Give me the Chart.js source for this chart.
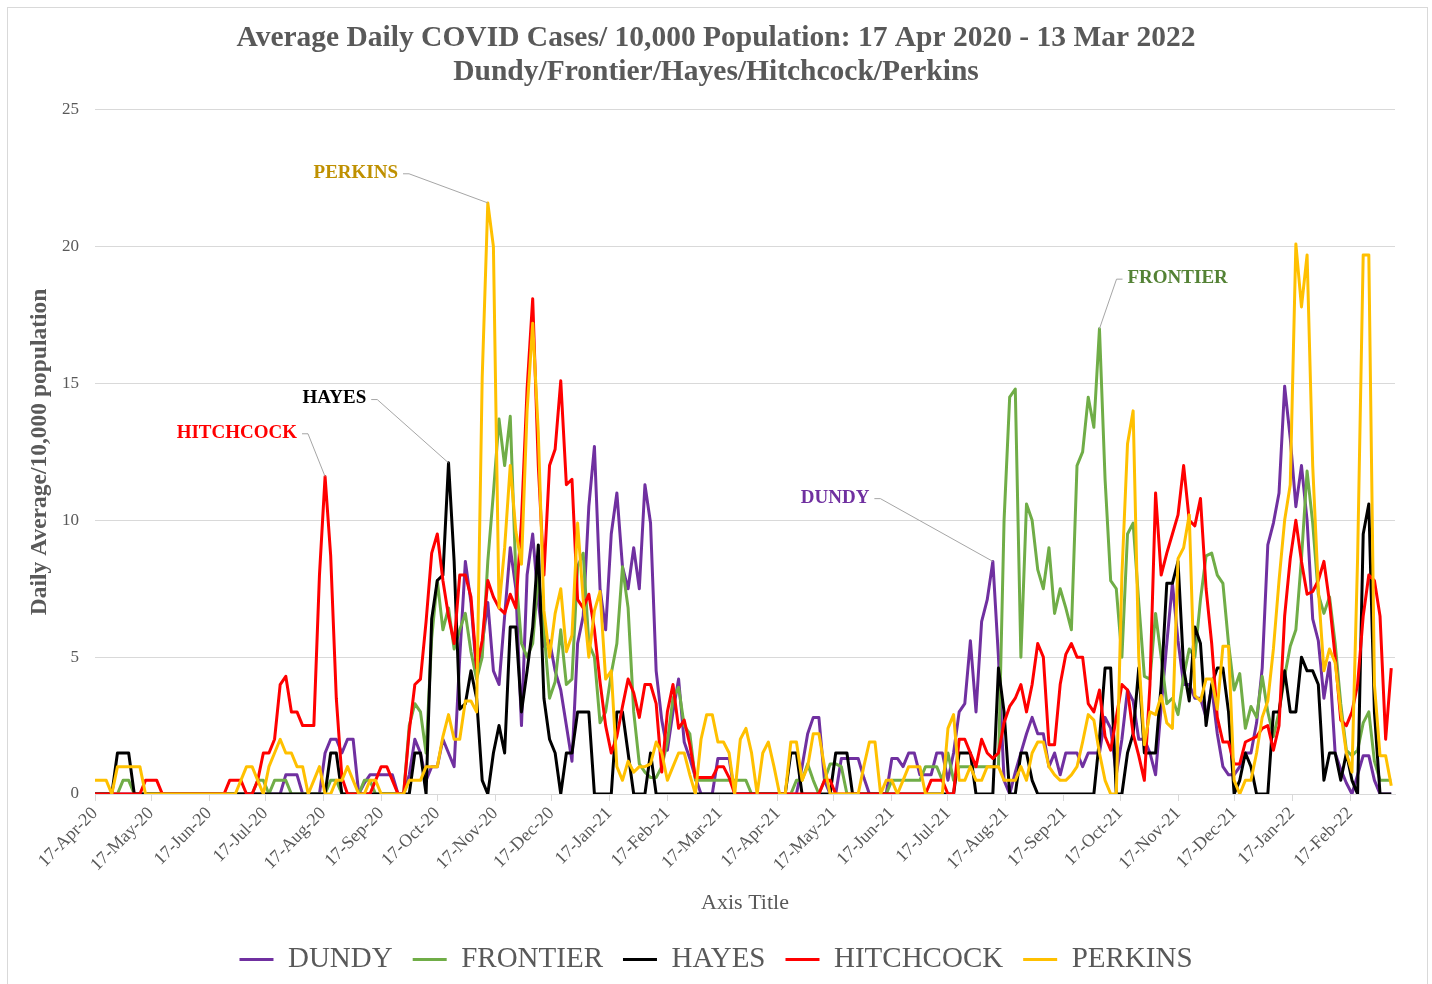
<!DOCTYPE html>
<html>
<head>
<meta charset="utf-8">
<script src="https://cdn.jsdelivr.net/npm/chart.js@4.4.0/dist/chart.umd.min.js"></script>
<style>
  html, body { margin: 0; padding: 0; background: #fff; }
</style>
</head>
<body>
<canvas id="covidChart" width="1432" height="984"></canvas>
<script>
// one value every 3 days, starting 17 Apr 2020 (day 0)
const dayStep = 3;

const tickDays = [0, 30, 61, 91, 122, 153, 183, 214, 244, 275, 306, 334, 365, 395, 426, 456, 487, 518, 548, 579, 609, 640, 671];
const tickLabels = ["17-Apr-20", "17-May-20", "17-Jun-20", "17-Jul-20", "17-Aug-20", "17-Sep-20", "17-Oct-20",
  "17-Nov-20", "17-Dec-20", "17-Jan-21", "17-Feb-21", "17-Mar-21", "17-Apr-21", "17-May-21", "17-Jun-21",
  "17-Jul-21", "17-Aug-21", "17-Sep-21", "17-Oct-21", "17-Nov-21", "17-Dec-21", "17-Jan-22", "17-Feb-22"];

const seriesNames = ["DUNDY", "FRONTIER", "HAYES", "HITCHCOCK", "PERKINS"];

const dundy = [
  0,0,0,0,0,0,0,0,0,0,
  0,0,0,0,0,0,0,0,0,0,
  0,0,0,0,0,0,0,0,0,0,
  0,0,0,0,0.7,0.7,0.7,0,0,0,
  0,1.5,2,2,1.5,2,2,0,0.4,0.7,
  0.7,0.7,0.7,0.7,0,0,0.7,2,1.5,0.5,
  1,1,2,1.5,1,5,8.5,7,4.4,5.5,
  7,4.5,4,6.5,9,7.5,2.5,8,9.5,7,
  5.4,5.6,4.5,3.8,2.5,1.2,5.5,6.5,10.5,12.7,
  7.5,6,9.5,11,8.3,7.5,9,7.5,11.3,9.9,
  4.5,2.7,1.6,3,4.2,1.9,1.3,0.6,0,0,
  0,1.3,1.3,1.3,0,0,0,0,0,0,
  0,0,0,0,0,0,1,2.2,2.8,2.8,
  0.5,0,0,1.3,1.3,1.3,1.3,0.6,0,0,
  0,0,1.3,1.3,1,1.5,1.5,0.7,0.7,0.7,
  1.5,1.5,0.5,1.5,3,3.3,5.6,3,6.3,7.1,
  8.5,5,0.5,0,0.8,1.5,2.2,2.8,2.2,2.2,
  1,1.5,0.7,1.5,1.5,1.5,1,1.5,1.5,1.5,
  2.8,2.4,0.7,2,3.8,3.4,2,2,1.5,0.7,
  3.2,5.5,7.7,5.6,4,4,3.5,3.5,2.8,3.9,
  2.2,1,0.7,0.7,1,1.5,1.5,2.6,4.6,9.1,
  9.9,11,14.9,13,10.5,12,10,6.4,5.6,3.5,
  4.8,1.5,0.9,0.4,0,0.7,1.4,1.4,0.5,0,
  0,0
];

const frontier = [
  0,0,0,0,0,0.5,0.5,0,0,0,
  0,0,0,0,0,0,0,0,0,0,
  0,0,0,0,0,0,0,0,0,0.5,
  0.5,0,0.5,0.5,0.5,0,0,0,0,0,
  0,0,0.5,0.5,0,0,0,0,0.5,0.5,
  0,0,0,0,0,0,2.5,3.3,3,1.5,
  5.7,7.8,6,6.8,5.3,6,6.6,5.2,4.2,5,
  8.5,11,13.7,12,13.8,8,5.5,5,5.5,8,
  6,3.5,4.1,6,4,4.2,8.3,8.8,5.5,5,
  2.6,3,4.4,5.5,8.3,6.8,3,1.1,0.8,0.6,
  0.6,1,1.9,3.5,3.9,2.5,2.2,0.5,0.5,0.5,
  0.5,0.5,0.5,0.5,0.5,0.5,0.5,0,0,0,
  0,0,0,0,0,0.5,0.5,1.1,0.5,0,
  0.5,1.1,1.1,1,0,0,0,0,0,0,
  0,0,0.5,0.5,0.5,0.5,0.5,0.5,1,1,
  1,0.5,1.5,0.5,1,1,1,1,1,1,
  1,1,10,14.5,14.8,5,10.6,10,8.2,7.5,
  9,6.6,7.5,6.8,6,12,12.5,14.5,13.4,17,
  11.5,7.8,7.5,5,9.5,9.9,7,4.3,4.2,6.6,
  5,3.3,3.5,2.9,4.3,5.3,5,7.1,8.7,8.8,
  8,7.7,5.5,3.8,4.4,2.4,3.2,2.8,4.3,3,
  2.1,3,4.3,5.4,6,8.6,11.8,9.9,7.3,6.6,
  7.2,5.5,3.3,1.6,1.4,1.6,2.6,3,1.2,0.5,
  0.5,0.5
];

const hayes = [
  0,0,0,0,1.5,1.5,1.5,0,0,0,
  0,0,0,0,0,0,0,0,0,0,
  0,0,0,0,0,0,0,0,0,0,
  0,0,0,0,0,0,0,0,0,0,
  0,0,1.5,1.5,0,0,0,0,0,0,
  0,0,0,0,0,0,0,1.5,1.5,0,
  6.4,7.8,8,12.1,8.5,3.1,3.3,4.5,3.5,0.5,
  0,1.5,2.5,1.5,6.1,6.1,3,4.5,6.1,9.1,
  3.5,2,1.5,0,1.5,1.5,3,3,3,0,
  0,0,0,3,3,1.5,0,0,0,1.5,
  0,0,0,0,0,0,0,0,0,0,
  0,0,0,0,0,0,0,0,0,0,
  0,0,0,0,1.5,1.5,0,0,0,0,
  0,0,1.5,1.5,1.5,0,0,0,0,0,
  0,0,0,0,0,0,0,0,0,0,
  0,0,0,0,1.5,1.5,1.5,0,0,0,
  0,4.6,3,0,0,1.5,1.5,0.5,0,0,
  0,0,0,0,0,0,0,0,0,2,
  4.6,4.6,0,0,1.5,2.2,4.6,1.5,1.5,1.5,
  4,7.7,7.7,8.5,4.6,3.4,6.1,5.5,2.5,4,
  4.6,4.6,3,0,0.5,1.5,1,0,0,0,
  3,3,4.5,3,3,5,4.5,4.5,4,0.5,
  1.5,1.5,0.5,1.5,0.5,0,9.5,10.6,3,0,
  0,0
];

const hitchcock = [
  0,0,0,0,0,0,0,0,0,0.5,
  0.5,0.5,0,0,0,0,0,0,0,0,
  0,0,0,0,0.5,0.5,0.5,0,0,0.5,
  1.5,1.5,2,4,4.3,3,3,2.5,2.5,2.5,
  8,11.6,8.7,3.5,0.6,0,0,0,0,0,
  0.5,1,1,0.5,0,0,2.3,4,4.2,6.3,
  8.8,9.5,7.8,6.5,5.5,8,8,7.2,4.6,5.6,
  7.8,7.2,6.8,6.6,7.3,6.8,10,14.8,18.1,12,
  8,12,12.6,15.1,11.3,11.5,7.1,6.8,7.3,6,
  4.1,2.5,1.5,2.1,3.2,4.2,3.7,2.8,4,4,
  3.3,0.8,3,4,2.4,2.7,1.8,0.6,0.6,0.6,
  0.6,1,1,0.6,0,0,0,0,0,0,
  0,0,0,0,0,0,0,0,0,0,
  0.5,0.5,0,0,0,0,0,0,0,0,
  0,0,0,0,0,0,0,0,0,0.5,
  0.5,0.5,0,0,2,2,1.5,1,2,1.5,
  1.3,1.5,2.6,3.2,3.5,4,3,4,5.5,5,
  1.8,1.8,4,5.1,5.5,5,5,3.3,3,3.8,
  2.1,1.6,2.8,4,3.8,2.2,1.4,0.5,4,11,
  8,8.8,9.5,10.2,12,10,9.8,10.8,7.5,5.5,
  2.8,1.9,1.9,1.1,1.1,1.9,2,2.1,2.4,2.5,
  1.6,2.5,6.5,8.6,10,8.5,7.3,7.4,7.8,8.5,
  7,5,2.7,2.5,3,4,6.5,8,7.8,6.5,
  2,4.6
];

const perkins = [
  0.5,0.5,0.5,0,1,1,1,1,1,0,
  0,0,0,0,0,0,0,0,0,0,
  0,0,0,0,0,0,0.5,1,1,0.5,
  0,1,1.5,2,1.5,1.5,1,1,0,0.5,
  1,0,0,0.5,0.5,1,0.5,0,0,0.5,
  0.5,0,0,0,0,0,0.5,0.5,0.5,1,
  1,1,2.1,2.9,2,2,3.4,3.4,3,15.2,
  21.6,20,6.8,9,12,9.6,8.4,14,17.2,13.2,
  6.7,5,6.6,7.5,5.2,5.8,9.9,7.1,5,6.7,
  7.4,4.2,4.5,1,0.5,1.2,0.8,1,1,1.1,
  1.9,1.5,0.5,1,1.5,1.5,0.7,0,2,2.9,
  2.9,1.9,1.9,1.5,0,2,2.4,1.5,0,1.5,
  1.9,1,0,0,1.9,1.9,0.5,1,2.2,2.2,
  1,0,0,0,0,0,0,1,1.9,1.9,
  0,0.5,0.5,0,0.5,1,1,1,0,0,
  0,0,2.4,2.9,0.5,0.5,1,0.5,0.5,1,
  1,1,0.5,0.5,0.5,1,0.5,1.5,1.9,1.9,
  1,0.7,0.5,0.5,0.7,1,1.9,2.9,2.7,1.5,
  0.5,0,0,8,12.8,14,5,1.8,3,2.9,
  3.6,2.6,2.4,8.6,9,10.2,3.6,3.4,4.2,4.2,
  3.1,5.4,5.4,0.5,0,0.5,0.5,1.5,2.8,3.4,
  5.3,7.8,10,11.3,20.1,17.8,19.7,12,7.5,4.5,
  5.3,4.8,3,1.5,0.8,8.6,19.7,19.7,4,1.4,
  1.4,0.3
];

const FONT = "'Liberation Serif', 'Times New Roman', serif";
const GREY = "#595959";

function toPoints(values) {
  return values.map((v, i) => ({ x: i * dayStep, y: v }));
}

// callout labels with grey leader lines, pointing at a data point
const callouts = [
  { text: "PERKINS", color: "#BF9000", series: perkins, index: 70, day: 162, value: 22.7, align: "right" },
  { text: "HAYES", color: "#000000", series: hayes, index: 63, day: 145, value: 14.45, align: "right" },
  { text: "HITCHCOCK", color: "#FF0000", series: hitchcock, index: 41, day: 108, value: 13.2, align: "right" },
  { text: "DUNDY", color: "#7030A0", series: dundy, index: 160, day: 414, value: 10.83, align: "right" },
  { text: "FRONTIER", color: "#548235", series: frontier, index: 179, day: 552, value: 18.85, align: "left" },
];

const calloutPlugin = {
  id: "callouts",
  afterDatasetsDraw(chart) {
    const { ctx } = chart;
    const xs = chart.scales.x;
    const ys = chart.scales.y;
    ctx.save();
    ctx.font = "bold 19px " + FONT;
    ctx.textBaseline = "middle";
    callouts.forEach((c) => {
      const lx = xs.getPixelForValue(c.day);
      const ly = ys.getPixelForValue(c.value);
      const tx = xs.getPixelForValue(c.index * dayStep);
      const ty = ys.getPixelForValue(c.series[c.index]);
      const dir = c.align === "right" ? 1 : -1;
      ctx.strokeStyle = "#A6A6A6";
      ctx.lineWidth = 1;
      ctx.beginPath();
      ctx.moveTo(lx + dir * 5, ly + 1);
      ctx.lineTo(lx + dir * 11, ly + 1);
      ctx.lineTo(tx, ty);
      ctx.stroke();
      ctx.fillStyle = c.color;
      ctx.textAlign = c.align;
      ctx.fillText(c.text, lx, ly);
    });
    ctx.restore();
  },
};

const framePlugin = {
  id: "frame",
  beforeDraw(chart) {
    const { ctx } = chart;
    ctx.save();
    ctx.fillStyle = "#ffffff";
    ctx.fillRect(0, 0, chart.width, chart.height);
    ctx.strokeStyle = "#D9D9D9";
    ctx.lineWidth = 1;
    ctx.strokeRect(7.5, 7.5, 1420, 1000);
    ctx.restore();
  },
};

const colors = ["#7030A0", "#70AD47", "#000000", "#FF0000", "#FFC000"];
const allSeries = [dundy, frontier, hayes, hitchcock, perkins];

const ctx = document.getElementById("covidChart");
new Chart(ctx, {
  type: "line",
  data: {
    datasets: allSeries.map((vals, i) => ({
      label: seriesNames[i],
      data: toPoints(vals),
      borderColor: colors[i],
      backgroundColor: colors[i],
      borderWidth: 3,
      pointRadius: 0,
      tension: 0,
      borderJoinStyle: "round",
      order: allSeries.length - i,
    })),
  },
  options: {
    responsive: false,
    animation: false,
    layout: { padding: 0 },
    plugins: {
      title: {
        display: true,
        text: [
          "Average Daily COVID Cases/ 10,000 Population: 17 Apr 2020 - 13 Mar 2022",
          "Dundy/Frontier/Hayes/Hitchcock/Perkins",
        ],
        color: GREY,
        font: { family: FONT, size: 29.5, weight: "bold", lineHeight: 1.15 },
        padding: { top: 21, bottom: 21 },
      },
      legend: {
        position: "bottom",
        labels: {
          usePointStyle: true,
          pointStyle: "line",
          pointStyleWidth: 34,
          color: GREY,
          font: { family: FONT, size: 29 },
          padding: 20,
          sort: (a, b) => a.datasetIndex - b.datasetIndex,
        },
      },
      tooltip: { enabled: false },
    },
    scales: {
      x: {
        type: "linear",
        min: 0,
        max: 695,
        afterBuildTicks: (axis) => {
          axis.ticks = tickDays.map((d) => ({ value: d }));
        },
        afterFit: (axis) => {
          axis.height = 131;
        },
        ticks: {
          autoSkip: false,
          minRotation: 45,
          maxRotation: 45,
          padding: 2,
          color: GREY,
          font: { family: FONT, size: 18 },
          callback: (value, index) => tickLabels[index],
        },
        grid: { drawOnChartArea: false, tickLength: 7, color: "#D9D9D9" },
        border: { color: "#D9D9D9" },
        title: {
          display: true,
          text: "Axis Title",
          color: GREY,
          font: { family: FONT, size: 22 },
          padding: { top: 4, bottom: 9 },
        },
      },
      y: {
        min: 0,
        max: 25,
        afterFit: (axis) => {
          axis.width = 95;
        },
        ticks: {
          stepSize: 5,
          padding: 16,
          color: GREY,
          font: { family: FONT, size: 17 },
        },
        grid: { color: "#D9D9D9", drawTicks: false },
        border: { display: false },
        title: {
          display: true,
          text: "Daily Average/10,000 population",
          color: GREY,
          font: { family: FONT, size: 23.5, weight: "bold" },
          padding: { top: 26, bottom: 0 },
        },
      },
      // empty right-hand margin so title and legend stay centred on the page
      yRight: {
        position: "right",
        min: 0,
        max: 25,
        afterFit: (axis) => {
          axis.width = 37;
        },
        ticks: { display: false },
        grid: { drawOnChartArea: false, drawTicks: false },
        border: { display: false },
      },
    },
  },
  plugins: [framePlugin, calloutPlugin],
});
</script>
</body>
</html>
